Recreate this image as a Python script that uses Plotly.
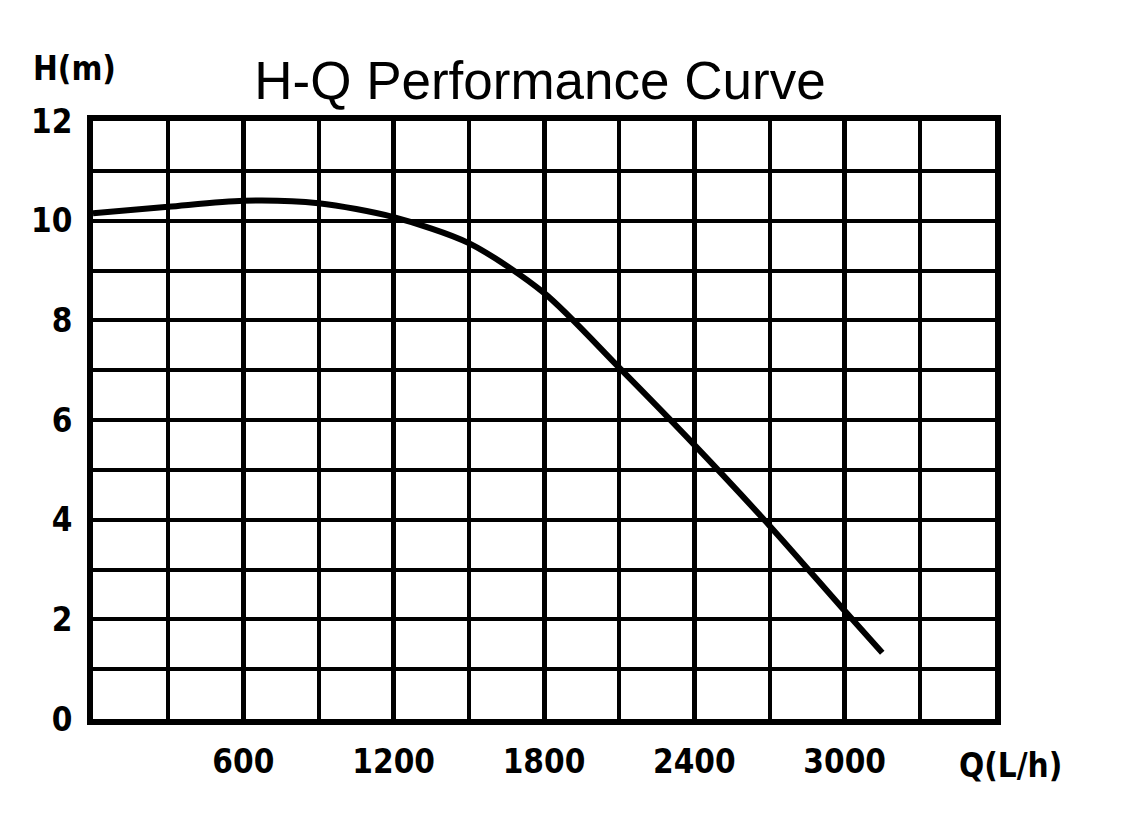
import plotly.graph_objects as go

# Data
flow_q = [0, 300, 600, 900, 1200, 1500, 1800, 2100, 2400, 2700, 3000, 3150]
head_h = [10.15, 10.28, 10.4, 10.35, 10.07, 9.55, 8.55, 7.05, 5.5, 3.88, 2.17, 1.33]

x_ticks = [600, 1200, 1800, 2400, 3000]
x_tick_labels = ["600", "1200", "1800", "2400", "3000"]
y_ticks = [0, 2, 4, 6, 8, 10, 12]
y_tick_labels = ["0", "2", "4", "6", "8", "10", "12"]

cad_font = "DejaVu Sans Condensed, Liberation Sans Narrow, sans-serif"

fig = go.Figure()
fig.add_trace(go.Scatter(
    x=flow_q, y=head_h, mode="lines",
    line=dict(color="black", width=6, shape="spline", smoothing=0.8),
    showlegend=False, hoverinfo="skip",
))

fig.update_layout(
    width=1128, height=816,
    margin=dict(l=85, r=141, t=113, b=105),
    paper_bgcolor="white", plot_bgcolor="white",
    title=dict(text="H-Q Performance Curve", x=0.4716, xanchor="center",
               y=0.911, yanchor="middle",
               font=dict(family="Liberation Sans, Arial, sans-serif", size=53, color="black")),
    font=dict(family=cad_font, color="black"),
)

fig.update_xaxes(
    range=[0, 3600], tickmode="array", tickvals=x_ticks, ticktext=x_tick_labels,
    showgrid=True, gridcolor="black", gridwidth=5,
    minor=dict(dtick=300, showgrid=True, gridcolor="black", gridwidth=4, tick0=0),
    showline=True, linecolor="black", linewidth=6, mirror=True,
    ticks="", ticklabelstandoff=8, zeroline=False,
    tickfont=dict(family=cad_font, size=33, color="black", weight="bold"),
)
fig.update_yaxes(
    range=[0, 12], tickmode="array", tickvals=y_ticks, ticktext=y_tick_labels,
    showgrid=True, gridcolor="black", gridwidth=4,
    minor=dict(dtick=1, showgrid=True, gridcolor="black", gridwidth=4, tick0=0),
    showline=True, linecolor="black", linewidth=6, mirror=True,
    ticks="", ticklabelstandoff=8, zeroline=False,
    tickfont=dict(family=cad_font, size=33, color="black", weight="bold"),
)

fig.add_annotation(text="H(m)", xref="paper", yref="paper", x=-0.02, y=1.0886,
                   xanchor="center", yanchor="middle", showarrow=False,
                   font=dict(family=cad_font, size=33, color="black", weight="bold"))
fig.add_annotation(text="Q(L/h)", xref="paper", yref="paper", x=1.0177, y=-0.077,
                   xanchor="center", yanchor="middle", showarrow=False,
                   font=dict(family=cad_font, size=33, color="black", weight="bold"))

fig.write_html("out.html")
